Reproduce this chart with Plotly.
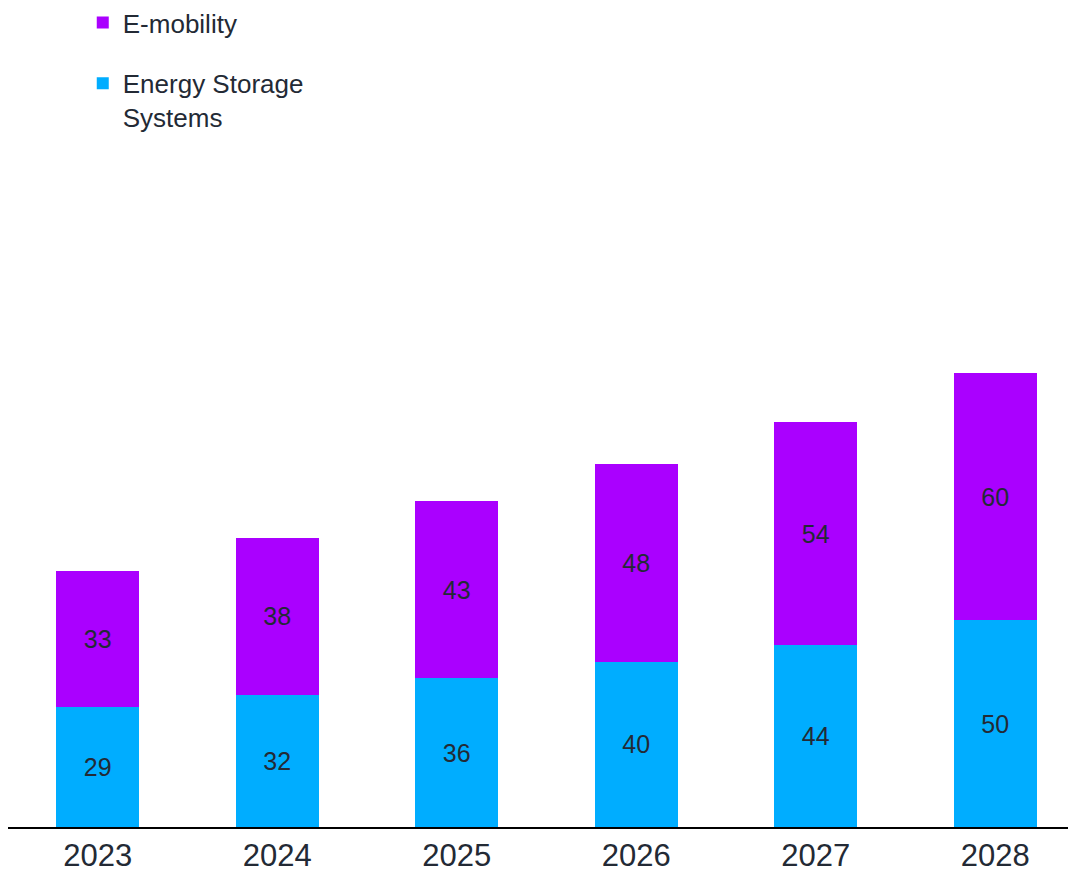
import plotly.graph_objects as go

years = ["2023", "2024", "2025", "2026", "2027", "2028"]
ess = [29, 32, 36, 40, 44, 50]
emob = [33, 38, 43, 48, 54, 60]

txt = "#232a35"
font = "Liberation Sans, Arial, sans-serif"

fig = go.Figure()
fig.add_trace(go.Bar(x=years, y=ess, name="Energy Storage<br>Systems",
                     marker=dict(color="#00adff", line=dict(width=0)),
                     text=ess, textposition="inside", insidetextanchor="middle",
                     textangle=0, textfont=dict(size=25, color=txt),
                     legendgroup="ess", legendrank=2))
fig.add_trace(go.Bar(x=years, y=emob, name="E-mobility",
                     marker=dict(color="#aa00ff", line=dict(width=0)),
                     text=emob, textposition="inside", insidetextanchor="middle",
                     textangle=0, textfont=dict(size=25, color=txt),
                     legendgroup="emob", legendrank=1))

# page body adds 8px margin, so figure is 8px smaller than the window
fig.update_layout(
    barmode="stack", bargap=0.54,
    width=1068, height=864,
    margin=dict(l=0, r=0, t=0, b=45, autoexpand=False),
    paper_bgcolor="white", plot_bgcolor="white",
    font=dict(family=font, color=txt),
    uniformtext=dict(mode="show", minsize=10),
    legend=dict(x=0.07, y=1.011, xanchor="left", yanchor="top",
                traceorder="grouped", tracegroupgap=24, valign="top",
                font=dict(size=26, color=txt), bgcolor="rgba(0,0,0,0)"),
)
fig.update_xaxes(range=[-0.5, 5.45], showline=True, linecolor="black", linewidth=2,
                 ticks="", showgrid=False, ticklabelstandoff=0,
                 tickfont=dict(size=31, color=txt))
fig.update_yaxes(range=[0, 198.3], visible=False, showgrid=False)

fig.write_html("out.html")
